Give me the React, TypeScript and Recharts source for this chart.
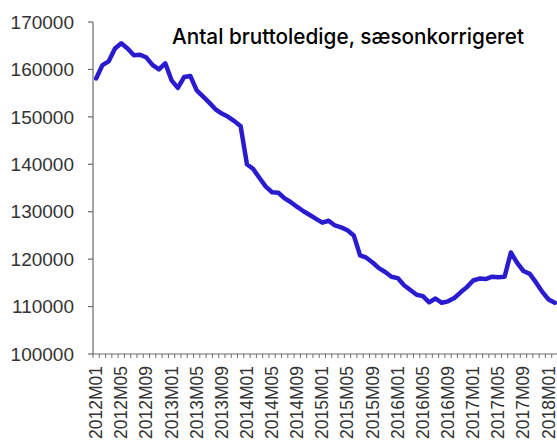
import React from 'react';
import { LineChart, Line, XAxis, YAxis } from 'recharts';

const years = [2012, 2013, 2014, 2015, 2016, 2017, 2018];
const lastYearMonths = 2;
const values = [
  158100, 160900, 161700, 164400, 165500, 164400, 163000, 163100, 162500, 160900, 160000, 161300,
  157700, 156100, 158400, 158600, 155600, 154300, 153000, 151600, 150700, 150000, 149100, 148000,
  140000, 139000, 137100, 135300, 134100, 134000, 132800, 132000, 131000, 130100, 129300, 128500,
  127700, 128100, 127100, 126700, 126100, 125000, 120800, 120300, 119300, 118100, 117300, 116300,
  116000, 114500, 113500, 112500, 112200, 110900, 111700, 110800, 111100, 111800, 113000, 114100,
  115500, 115900, 115800, 116300, 116200, 116300, 121400, 119200, 117500, 116900, 115100, 113100,
  111500, 110800,
];
const yTicks = [100000, 110000, 120000, 130000, 140000, 150000, 160000, 170000];
const title = 'Antal bruttoledige, sæsonkorrigeret';

const months: string[] = [];
years.forEach((y, yi) => {
  const n = yi === years.length - 1 ? lastYearMonths : 12;
  for (let m = 1; m <= n; m++) months.push(`${y}M${m < 10 ? '0' + m : m}`);
});
const data = months.map((m, i) => ({ month: m, value: values[i] }));

const CHART_W = 560;
const Y_AXIS_W = 93;
const RIGHT_M = 2;
const PLOT_W = CHART_W - Y_AXIS_W - RIGHT_M;
const HALF_BAND = PLOT_W / data.length / 2;

const AXIS_COLOR = '#6b6b6b';
const TEXT_COLOR = '#333333';
const FONT = '"Liberation Sans", Arial, sans-serif';

const XTick = (props: any) => {
  const { x, y, payload, index } = props;
  const i = payload && typeof payload.index === 'number' ? payload.index : index;
  return (
    <g>
      <line x1={x - HALF_BAND} x2={x - HALF_BAND} y1={y} y2={y + 4} stroke={AXIS_COLOR} strokeWidth={1} />
      {i === data.length - 1 && (
        <line x1={x + HALF_BAND} x2={x + HALF_BAND} y1={y} y2={y + 4} stroke={AXIS_COLOR} strokeWidth={1} />
      )}
      {i % 4 === 0 && (
        <text
          x={0}
          y={0}
          transform={`translate(${x + 6},${y + 12}) rotate(-90)`}
          textAnchor="end"
          fontSize={17.5}
          fontFamily={FONT}
          fill={TEXT_COLOR}
        >
          {payload.value}
        </text>
      )}
    </g>
  );
};

export default function App() {
  return (
    <div style={{ position: 'absolute', left: 0, top: 0, width: 557, height: 441, overflow: 'hidden', background: '#fff' }}>
      <LineChart
        width={CHART_W}
        height={441}
        data={data}
        margin={{ top: 22, right: RIGHT_M, left: 0, bottom: 0 }}
      >
        <XAxis
          dataKey="month"
          interval={0}
          height={87}
          padding={{ left: HALF_BAND, right: HALF_BAND }}
          tick={<XTick />}
          tickLine={false}
          tickSize={0}
          tickMargin={0}
          axisLine={{ stroke: AXIS_COLOR, strokeWidth: 1.2 }}
        />
        <YAxis
          width={Y_AXIS_W}
          domain={[100000, 170000]}
          ticks={yTicks}
          interval={0}
          tickSize={5}
          tickMargin={14}
          axisLine={{ stroke: AXIS_COLOR, strokeWidth: 1.2 }}
          tickLine={{ stroke: AXIS_COLOR, strokeWidth: 1.2 }}
          tick={{ fontSize: 19, fontFamily: FONT, fill: TEXT_COLOR }}
        />
        <Line
          type="linear"
          dataKey="value"
          stroke="#2b1bcf"
          strokeWidth={4.5}
          dot={false}
          isAnimationActive={false}
          strokeLinejoin="round"
          strokeLinecap="round"
        />
      </LineChart>
      <svg width={557} height={441} style={{ position: 'absolute', left: 0, top: 0, pointerEvents: 'none' }}>
        <text
          x={172}
          y={44}
          fontSize={22}
          fontFamily="Inter, sans-serif"
          fontWeight={500}
          fill="#000"
          textLength={352}
          lengthAdjust="spacingAndGlyphs"
        >
          {title}
        </text>
      </svg>
    </div>
  );
}
